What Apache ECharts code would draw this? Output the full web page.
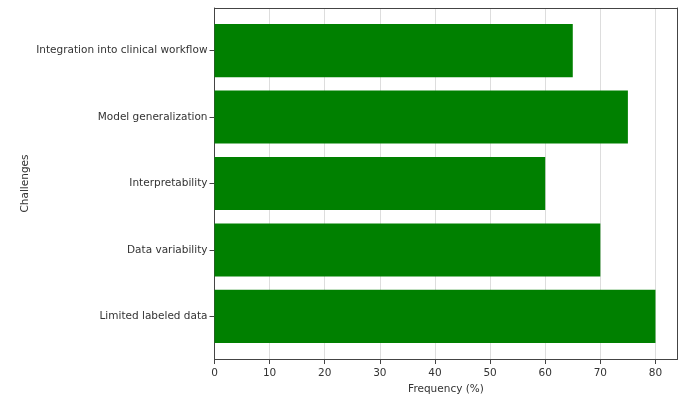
<!DOCTYPE html>
<html>
<head>
<meta charset="utf-8">
<script src="https://cdn.jsdelivr.net/npm/echarts@6/dist/echarts.min.js"></script>
<style>html,body{margin:0;padding:0;background:#fff}#c{width:685px;height:394px}</style>
</head>
<body>
<div id="c"></div>
<script>
const categories = ['Limited labeled data', 'Data variability', 'Interpretability', 'Model generalization', 'Integration into clinical workflow'];
const frequencies = [80, 70, 60, 75, 65];
const xTicks = [0, 10, 20, 30, 40, 50, 60, 70, 80];

const font = 'DejaVu Sans';
const txt = '#333';
const frame = '#444';
const chart = echarts.init(document.getElementById('c'), null, {renderer: 'canvas'});
chart.setOption({
  animation: false,
  grid: [
    {left: 214.5, right: 7.5, top: 8, bottom: 35, outerBoundsMode: 'none', containLabel: false},
    {left: 214.5, right: 7.5, top: 17.3, bottom: 44.3, outerBoundsMode: 'none', containLabel: false}
  ],
  xAxis: [
    {gridIndex: 0, type: 'value', min: 0, max: 84, interval: 10, position: 'bottom',
     axisLine: {show: true, onZero: false, lineStyle: {color: frame}},
     axisTick: {show: true, length: 5, lineStyle: {color: frame}},
     axisLabel: {color: txt, fontFamily: font, fontSize: 10.5, margin: 9, showMaxLabel: false,
       formatter: v => xTicks.includes(v) ? String(v) : ''},
     splitLine: {show: true, lineStyle: {color: '#ddd', width: 1}},
     name: 'Frequency (%)', nameLocation: 'middle', nameGap: 20.5,
     nameTextStyle: {color: txt, fontFamily: font, fontSize: 10.5}},
    {gridIndex: 0, type: 'value', min: 0, max: 84, position: 'top',
     axisLine: {show: true, onZero: false, lineStyle: {color: frame}}, axisTick: {show: false},
     axisLabel: {show: false}, splitLine: {show: false}},
    {gridIndex: 1, type: 'value', min: 0, max: 84, show: false}
  ],
  yAxis: [
    {gridIndex: 0, type: 'value', min: 0, max: 1, position: 'left', axisLabel: {show: false}, axisTick: {show: false},
     splitLine: {show: false}, axisLine: {show: true, onZero: false, lineStyle: {color: frame}},
     name: 'Challenges', nameLocation: 'middle', nameGap: 184, nameRotate: 90,
     nameTextStyle: {color: txt, fontFamily: font, fontSize: 10.5}},
    {gridIndex: 0, type: 'value', min: 0, max: 1, position: 'right', axisLabel: {show: false}, axisTick: {show: false},
     splitLine: {show: false}, axisLine: {show: true, onZero: false, lineStyle: {color: frame}}},
    {gridIndex: 1, type: 'category', data: categories, boundaryGap: true,
     axisLine: {show: false, onZero: false},
     axisTick: {show: true, alignWithLabel: true, length: 5, lineStyle: {color: frame}},
     axisLabel: {color: txt, fontFamily: font, fontSize: 10.5, margin: 7},
     splitLine: {show: false}}
  ],
  series: [{
    type: 'bar', xAxisIndex: 2, yAxisIndex: 2, data: frequencies,
    barWidth: '80%', itemStyle: {color: '#008000'}
  }]
});
</script>
</body>
</html>
